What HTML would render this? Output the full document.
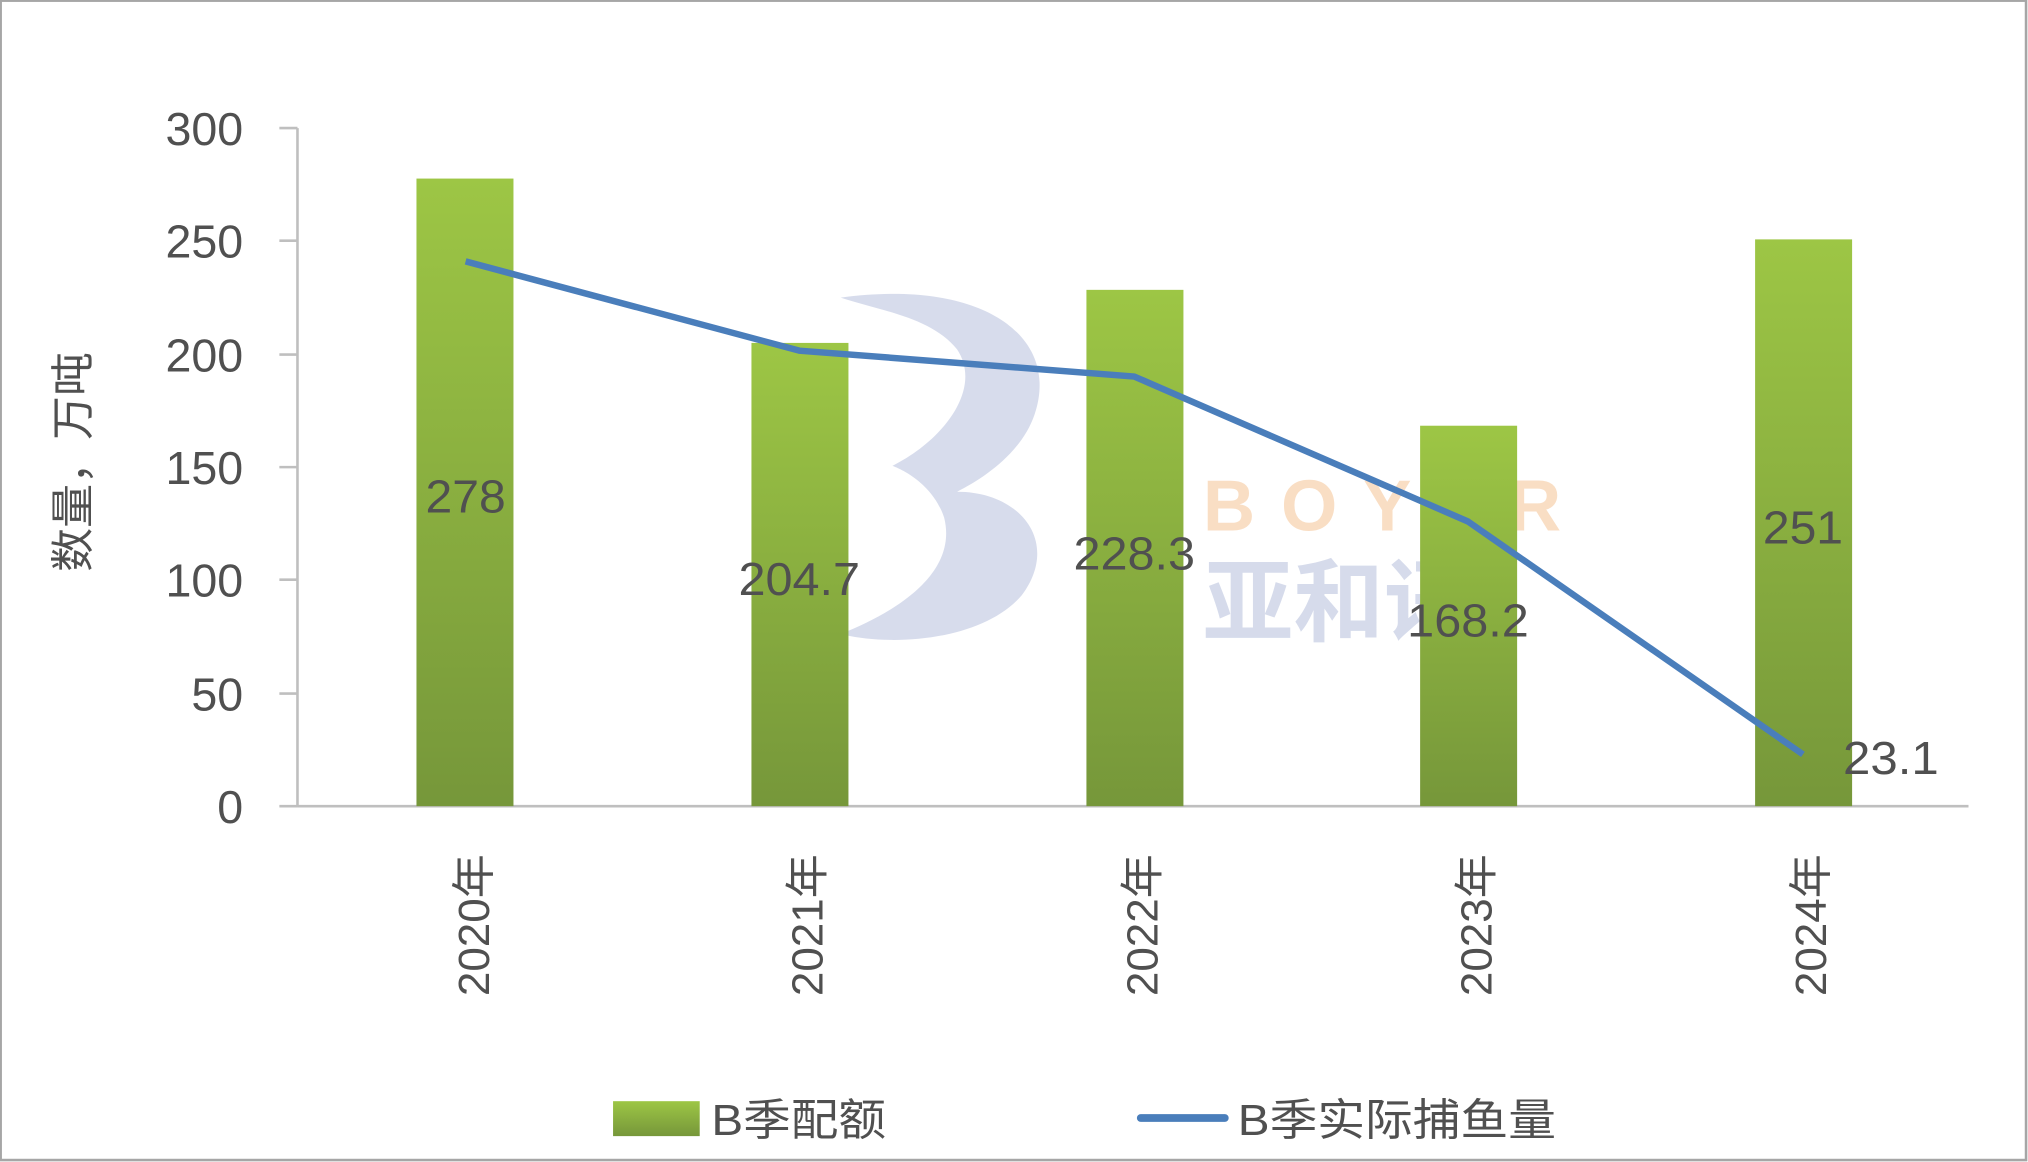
<!DOCTYPE html>
<html><head><meta charset="utf-8"><style>
html,body{margin:0;padding:0;background:#fff;}
svg{display:block;}
text{font-family:"Liberation Sans","Noto Sans CJK SC",sans-serif;fill:#505050;}
</style></head><body>
<svg width="2028" height="1162" viewBox="0 0 1568 898" preserveAspectRatio="none" xmlns="http://www.w3.org/2000/svg">
<defs>
<linearGradient id="g" x1="0" y1="0" x2="0" y2="1">
<stop offset="0" stop-color="#9dc645"/><stop offset="1" stop-color="#76973a"/>
</linearGradient>
</defs>
<rect x="0.5" y="0.5" width="1566" height="896" fill="#fff" stroke="#a6a6a6" stroke-width="2"/>
<g opacity="0.35">
<path d="M650 230 C760 215 820 260 800 320 C790 350 760 370 740 380 C790 380 820 420 790 460 C760 495 690 500 650 490 C700 470 740 440 730 400 C720 370 690 360 690 360 C730 340 760 300 740 270 C720 245 680 240 650 230Z" fill="#8b9bc8"/>
<text x="930" y="410" font-size="56" style="fill:#f0a35a" font-weight="bold" letter-spacing="20">BOYAR</text>
<text x="930" y="490" font-size="70" style="fill:#8b9bc8" font-weight="bold">亚和讯</text>
</g>
<g stroke="#bfbfbf" stroke-width="2">
<line x1="230" y1="99" x2="230" y2="623"/>
<line x1="230" y1="623" x2="1522" y2="623"/>
<line x1="216" y1="99" x2="230" y2="99"/>
<line x1="216" y1="186" x2="230" y2="186"/>
<line x1="216" y1="274" x2="230" y2="274"/>
<line x1="216" y1="361" x2="230" y2="361"/>
<line x1="216" y1="448" x2="230" y2="448"/>
<line x1="216" y1="536" x2="230" y2="536"/>
<line x1="216" y1="623" x2="230" y2="623"/>
</g>
<g font-size="36" text-anchor="end">
<text x="188" y="112">300</text><text x="188" y="199">250</text><text x="188" y="287">200</text>
<text x="188" y="374">150</text><text x="188" y="461">100</text><text x="188" y="549">50</text><text x="188" y="636">0</text>
</g>
<text transform="translate(68,357) rotate(-90)" font-size="34" text-anchor="middle">数量，万吨</text>
<g fill="url(#g)">
<rect x="322" y="138" width="75" height="485"/>
<rect x="581" y="265" width="75" height="358"/>
<rect x="840" y="224" width="75" height="399"/>
<rect x="1098" y="329" width="75" height="294"/>
<rect x="1357" y="185" width="75" height="438"/>
</g>
<polyline points="360,202 618,271 877,291 1135,403 1394,583" fill="none" stroke="#4a7ebb" stroke-width="5" stroke-linejoin="round"/>
<g font-size="36" text-anchor="middle">
<text x="360" y="396" textLength="62" lengthAdjust="spacingAndGlyphs">278</text>
<text x="618" y="460" textLength="94" lengthAdjust="spacingAndGlyphs">204.7</text>
<text x="877" y="440" textLength="94" lengthAdjust="spacingAndGlyphs">228.3</text>
<text x="1135" y="492" textLength="94" lengthAdjust="spacingAndGlyphs">168.2</text>
<text x="1394" y="420" textLength="62" lengthAdjust="spacingAndGlyphs">251</text>
<text x="1462" y="598" textLength="74" lengthAdjust="spacingAndGlyphs">23.1</text>
</g>
<g font-size="34">
<text transform="translate(378,715) rotate(-90)" text-anchor="middle">2020年</text>
<text transform="translate(636,715) rotate(-90)" text-anchor="middle">2021年</text>
<text transform="translate(895,715) rotate(-90)" text-anchor="middle">2022年</text>
<text transform="translate(1153,715) rotate(-90)" text-anchor="middle">2023年</text>
<text transform="translate(1412,715) rotate(-90)" text-anchor="middle">2024年</text>
</g>
<rect x="474" y="851" width="67" height="27" fill="url(#g)"/>
<text x="550" y="877" font-size="34" textLength="135" lengthAdjust="spacingAndGlyphs">B季配额</text>
<line x1="882" y1="864" x2="947" y2="864" stroke="#4a7ebb" stroke-width="6" stroke-linecap="round"/>
<text x="957" y="877" font-size="34" textLength="246" lengthAdjust="spacingAndGlyphs">B季实际捕鱼量</text>
</svg>
</body></html>
